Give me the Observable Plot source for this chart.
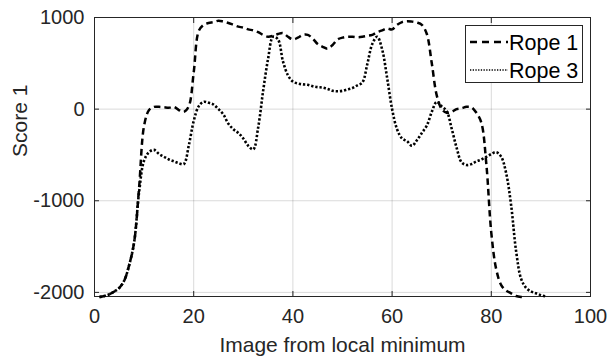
<!DOCTYPE html>
<html><head><meta charset="utf-8">
<script src="https://cdn.jsdelivr.net/npm/d3@7"></script>
<script src="https://cdn.jsdelivr.net/npm/@observablehq/plot@0.6"></script>
<style>
body{margin:0;background:#fff;}
#wrap{position:relative;width:610px;height:358px;font-family:"Liberation Sans",Arial,sans-serif;}
#legend{position:absolute;left:465px;top:25px;width:118px;height:58px;border:1px solid #262626;background:#fff;box-sizing:border-box;}
#legend svg{display:block;}
</style></head><body><div id="wrap"></div>
<script>
// Image index from local minimum
const rope1Image = [1,2,3,4,5,6,7,8,9,10,11,12,13,14,15,16,17,18,19,20,21,22,23,24,25,26,27,28,29,30,31,32,33,34,35,36,37,38,39,40,41,42,43,44,45,46,47,48,49,50,51,52,53,54,55,56,57,58,59,60,61,62,63,64,65,66,67,68,69,70,71,72,73,74,75,76,77,78,79,80,81,82,83,84,85,86,87];
const rope1Score = [-2050,-2040,-2020,-1990,-1950,-1870,-1700,-1450,-850,-180,-10,25,25,20,15,25,-10,-30,30,400,850,920,940,950,965,955,940,920,900,890,870,860,840,810,790,800,820,830,790,760,780,810,810,770,710,680,660,700,760,780,790,790,785,790,800,810,840,860,880,870,920,950,960,955,945,920,820,500,150,0,-40,-30,0,10,25,20,-40,-150,-600,-1350,-1750,-1920,-1980,-2010,-2040,-2050,-2050];
const rope3Image = [1,2,3,4,5,6,7,8,9,10,11,12,13,14,15,16,17,18,19,20,21,22,23,24,25,26,27,28,29,30,31,32,33,34,35,36,37,38,39,40,41,42,43,44,45,46,47,48,49,50,51,52,53,54,55,56,57,58,59,60,61,62,63,64,65,66,67,68,69,70,71,72,73,74,75,76,77,78,79,80,81,82,83,84,85,86,87,88,89,90,91];
const rope3Score = [-2050,-2040,-2020,-1990,-1950,-1870,-1700,-1450,-900,-560,-470,-445,-490,-520,-550,-570,-590,-600,-400,-130,30,80,70,50,0,-60,-160,-220,-260,-320,-400,-440,-200,200,550,790,760,520,370,300,280,270,265,250,240,235,220,200,195,200,215,230,260,290,490,710,790,650,340,0,-220,-320,-350,-400,-340,-260,-180,-30,80,30,-20,-210,-420,-580,-610,-600,-570,-550,-520,-490,-470,-520,-700,-1050,-1550,-1850,-1950,-1990,-2010,-2030,-2045];
const xTicks = [0,20,40,60,80,100];
const yTicks = [-2000,-1000,0,1000];
const seriesNames = ["Rope 1","Rope 3"];
const xLabel = "Image from local minimum";
const yLabel = "Score 1";

const rope1 = rope1Image.map((x,i)=>({x, y: rope1Score[i]}));
const rope3 = rope3Image.map((x,i)=>({x, y: rope3Score[i]}));

const dash1 = "6.5,4", dash3 = "2.3,1.9";
const ink = "#262626";
const font = '"Liberation Sans", Arial, sans-serif';
const fmt = d => String(d);

const chart = Plot.plot({
  width: 610, height: 358,
  marginLeft: 94, marginRight: 20, marginTop: 17, marginBottom: 62,
  style: {fontFamily: font, fontSize: "20px", color: ink, background: "#fff", overflow: "visible"},
  x: {domain: [0, 100]},
  y: {domain: [-2045, 1000]},
  marks: [
    Plot.gridX(xTicks, {stroke: "#000", strokeOpacity: 0.15}),
    Plot.gridY(yTicks, {stroke: "#000", strokeOpacity: 0.15}),
    Plot.axisX(xTicks, {anchor: "bottom", tickSize: 0, tickPadding: 12, label: null, fill: ink, tickFormat: fmt}),
    Plot.axisX(xTicks, {anchor: "bottom", tickSize: -5, tickFormat: () => "", label: null, stroke: ink}),
    Plot.axisX(xTicks, {anchor: "top", tickSize: -5, tickFormat: () => "", label: null, stroke: ink}),
    Plot.axisY(yTicks, {anchor: "left", tickSize: 0, tickPadding: 10, label: null, fill: ink, tickFormat: fmt}),
    Plot.axisY(yTicks, {anchor: "left", tickSize: -5, tickFormat: () => "", label: null, stroke: ink}),
    Plot.axisY(yTicks, {anchor: "right", tickSize: -5, tickFormat: () => "", label: null, stroke: ink}),
    Plot.frame({stroke: ink}),
    Plot.line(rope1, {x: "x", y: "y", stroke: "#000", strokeWidth: 2.5, strokeDasharray: dash1, strokeLinecap: "butt", curve: "catmull-rom"}),
    Plot.line(rope3, {x: "x", y: "y", stroke: "#000", strokeWidth: 2.6, strokeDasharray: dash3, strokeLinecap: "butt", curve: "catmull-rom"}),
    Plot.text([xLabel], {text: d => d, frameAnchor: "bottom", dy: 55, fontSize: 21, fill: ink}),
    Plot.text([yLabel], {text: d => d, frameAnchor: "left", dx: -74, rotate: -90, fontSize: 21, fill: ink})
  ]
});
const wrap = document.getElementById("wrap");
wrap.appendChild(chart);

// Legend box inside the axes
const leg = document.createElement("div");
leg.id = "legend";
wrap.appendChild(leg);
const svg = d3.select(leg).append("svg").attr("width", 116).attr("height", 56);
const dashes = ["7,5", "1.3,1.4"];
const widths = [2.5, 1.6];
seriesNames.forEach((name, i) => {
  const cy = 16 + i * 28;
  svg.append("line").attr("x1", 4).attr("x2", 42).attr("y1", cy).attr("y2", cy)
    .attr("stroke", "#000").attr("stroke-width", widths[i]).attr("stroke-dasharray", dashes[i])
    .attr("stroke-linecap", "butt");
  svg.append("text").attr("x", 43).attr("y", cy).attr("dy", "0.35em")
    .attr("font-family", font).attr("font-size", 21.5).attr("fill", "#000").text(name);
});
</script>
</body></html>
